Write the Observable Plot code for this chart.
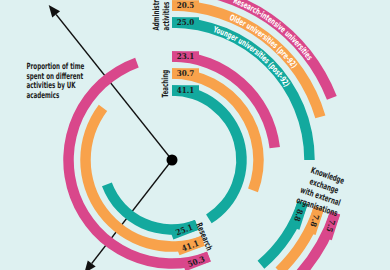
<!DOCTYPE html>
<html><head><meta charset="utf-8">
<script src="https://cdn.jsdelivr.net/npm/d3@7"></script>
<script src="https://cdn.jsdelivr.net/npm/@observablehq/plot@0.6"></script>
<style>
html,body{margin:0;padding:0;background:#def1f1;}
#chart{width:390px;height:270px;overflow:hidden;}
</style></head><body><div id="chart"></div>
<script>
// ---- data ----
const categories = ["Administrative activities", "Teaching", "Research", "Knowledge exchange with external organisations"];
const categoryLabels = ["Administrative\nactivities", "Teaching", "Research", "Knowledge\nexchange\nwith external\norganisations"];
const series = ["Research-intensive universities", "Older universities (pre-92)", "Younger universities (post-92)"];
const administrative = [19.1, 20.5, 25.0];
const teaching = [23.1, 30.7, 41.1];
const research = [50.3, 41.1, 25.1];
const knowledgeExchange = [7.5, 7.8, 8.8];
const title = "Proportion of time\nspent on different\nactivities by UK\nacademics";

// ---- layout ----
const colors = ["#d9478b", "#f8a24b", "#13a99e"];
const groupStart = [0, 0, 44.2, 30];      // % of the circle where each group's arcs begin
const groupOuter = [true, false, false, true];
const cx = 172, cy = 160, band = 10.5;
const FONT = "'DejaVu Sans Condensed','DejaVu Sans',sans-serif";
const SQUEEZE = 0.72;
const arrows = [{angle: 89.3, length: 198}, {angle: 60.5, length: 143}];

const groups = [administrative, teaching, research, knowledgeExchange];
const rows = categories.flatMap((c, gi) => series.map((s, si) => ({
  category: c, gi, series: s, si, value: groups[gi][si], start: groupStart[gi],
  ring: (groupOuter[gi] ? 4 : 0) + (2 - si)
})));

const polar = (A, R) => [cx + R * Math.sin(A), cy - R * Math.cos(A)];

function arcRender(index, scales) {
  const g = d3.create("svg:g");
  for (const i of index) {
    const d = rows[i];
    const a0 = scales.x(d.start), a1 = scales.x(d.start + d.value), R = scales.y(d.ring);
    const fill = scales.color(d.series);
    g.append("path").attr("transform", `translate(${cx},${cy})`)
      .attr("d", d3.arc()({innerRadius: R - band / 2, outerRadius: R + band / 2, startAngle: a0, endAngle: a1}))
      .attr("fill", fill);
    const [px, py] = polar(a0, R);
    const deg = a0 * 180 / Math.PI;
    g.append("rect").attr("x", 0).attr("y", -band / 2).attr("width", 27).attr("height", band)
      .attr("transform", `translate(${px},${py}) rotate(${deg})`).attr("fill", fill);
    const flip = deg > 135 && deg < 315;
    g.append("text").attr("transform", `translate(${px},${py}) rotate(${deg}) translate(13.5,0)` + (flip ? " rotate(180)" : "") + " scale(0.9,1)")
      .attr("text-anchor", "middle").attr("dy", "0.36em")
      .attr("font-family", "'DejaVu Serif',serif").attr("font-weight", "bold").attr("font-size", 8)
      .attr("fill", "#1d1d1d").text(d.value.toFixed(1));
    if (d.gi === 0) {
      const rb = R - 2.9;
      const [x0, y0] = polar(a0, rb), [x1, y1] = polar(a1, rb);
      const id = "sp" + i;
      g.append("path").attr("id", id).attr("fill", "none")
        .attr("d", `M${x0},${y0}A${rb},${rb} 0 ${a1 - a0 > Math.PI ? 1 : 0} 1 ${x1},${y1}`);
      g.append("text").attr("class", "arcname").attr("font-family", FONT).attr("font-weight", "bold").attr("font-size", 8.4)
        .attr("fill", "#ffffff").attr("text-anchor", "middle")
        .append("textPath").attr("href", "#" + id).attr("startOffset", rb * (37.5 * Math.PI / 180))
        .text(d.series);
    }
  }
  return g.node();
}

function arrowRender(index, scales) {
  const g = d3.create("svg:g");
  for (const i of index) {
    const a = scales.x(arrows[i].angle), L = arrows[i].length;
    const [tx, ty] = polar(a, L), [bx, by] = polar(a, L - 12);
    const ux = Math.cos(a), uy = Math.sin(a);
    g.append("line").attr("x1", cx).attr("y1", cy).attr("x2", bx).attr("y2", by)
      .attr("stroke", "#111").attr("stroke-width", 1.3);
    g.append("path").attr("d", `M${tx},${ty}L${bx + 5 * ux},${by + 5 * uy}L${bx - 5 * ux},${by - 5 * uy}Z`).attr("fill", "#111");
  }
  g.append("circle").attr("cx", cx).attr("cy", cy).attr("r", 5.5).attr("fill", "#000");
  return g.node();
}

const textBase = {text: d => d, frameAnchor: "top-left", fontFamily: FONT, fontWeight: "bold", fontSize: 8.6, fill: "#1d1d1d", lineHeight: 1.12, className: "cond"};

const chart = Plot.plot({
  width: 390, height: 270, margin: 0,
  style: {background: "#def1f1"},
  x: {domain: [0, 100], range: [0, 2 * Math.PI], axis: null},
  y: {domain: [0, 6], range: [69.5, 171.5], axis: null},
  color: {domain: series, range: colors},
  marks: [
    Plot.link(arrows, {x1: 0, x2: "angle", y1: 0, y2: 0, render: arrowRender}),
    Plot.link(rows, {x1: "start", x2: d => d.start + d.value, y1: "ring", y2: "ring", stroke: "series", render: arcRender}),
    Plot.text([title], {...textBase, dx: 26, dy: 62, textAnchor: "start", lineAnchor: "top", lineHeight: 1.1}),
    Plot.text([categoryLabels[0]], {...textBase, dx: 160.5, dy: 30, rotate: -90, textAnchor: "start", lineAnchor: "middle"}),
    Plot.text([categoryLabels[1]], {...textBase, dx: 164.5, dy: 97, rotate: -90, textAnchor: "start", lineAnchor: "middle"}),
    Plot.text([categoryLabels[2]], {...textBase, dx: 204, dy: 236, rotate: 67.5, textAnchor: "middle", lineAnchor: "middle"}),
    Plot.text([categoryLabels[3]], {...textBase, dx: 322, dy: 190, rotate: 19, textAnchor: "middle", lineAnchor: "middle", lineHeight: 1.28})
  ]
});
document.getElementById("chart").append(chart);
// condense the bold annotation texts to match the narrow face of the original
d3.select(chart).selectAll(".cond text").attr("transform", function () {
  return (this.getAttribute("transform") || "") + ` scale(${SQUEEZE},1)`;
});
d3.select(chart).selectAll(".arcname textPath").each(function () {
  const len = this.getComputedTextLength();
  if (len > 0) d3.select(this).attr("textLength", len * SQUEEZE).attr("lengthAdjust", "spacingAndGlyphs");
});
</script></body></html>
